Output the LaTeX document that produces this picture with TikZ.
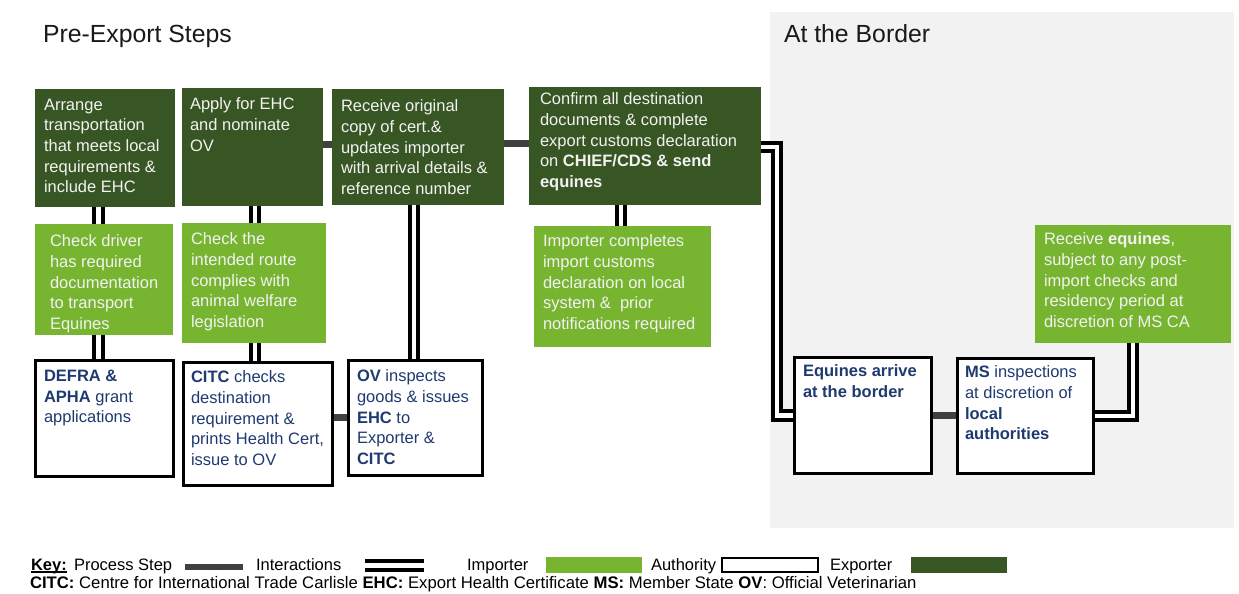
\documentclass[tikz,border=0pt]{standalone}
\usepackage{fontspec}
\setmainfont{Liberation Sans}
\usetikzlibrary{calc}
\pgfdeclarelayer{bg}
\pgfdeclarelayer{conn}
\pgfsetlayers{bg,conn,main}
\definecolor{dkgreen}{HTML}{375623}
\definecolor{ltgreen}{HTML}{77B530}
\definecolor{navy}{HTML}{1F3A70}
\definecolor{paletext}{HTML}{F2F2F2}
\definecolor{bggray}{HTML}{F2F2F2}
\definecolor{procgray}{HTML}{404040}
\tikzset{
  boxbase/.style={anchor=north west, inner sep=0pt, outer sep=0pt},
  dkbox/.style={boxbase, fill=dkgreen},
  ltbox/.style={boxbase, fill=ltgreen},
  whbox/.style={boxbase, fill=white, draw=black, line width=2.8pt},
  txt/.style={anchor=north west, inner sep=0pt, outer sep=0pt, align=left, font=\fontsize{16.5}{20.6}\selectfont},
  lighttxt/.style={txt, text=paletext},
  navytxt/.style={txt, text=navy},
  proc/.style={draw=procgray, line width=7pt},
  inter/.style={draw=black, double=white, line width=4pt, double distance=4.5pt},
  keytxt/.style={anchor=base west, inner sep=0pt, outer sep=0pt, font=\fontsize{16.5}{18}\selectfont},
  keybox/.style={anchor=north west, inner sep=0pt, outer sep=0pt, minimum height=16pt},
  titletxt/.style={anchor=base west, inner sep=0pt, outer sep=0pt, text=black!90, font=\fontsize{24.8}{30}\selectfont}
}
\begin{document}
\begin{tikzpicture}[x=1pt,y=-1pt]
\useasboundingbox (0,0) rectangle (1239,594);
\begin{pgfonlayer}{bg}
  \fill[bggray] (770,12) rectangle (1234,528);
\end{pgfonlayer}

% titles
\node[titletxt] (t1) at (43,43) {Pre-Export Steps};
\node[titletxt] (t2) at (784,43) {At the Border};

% exporter boxes
\node[dkbox, minimum width=140pt, minimum height=118pt] (B1) at (35,89) {};
\node[dkbox, minimum width=141pt, minimum height=118pt] (B2) at (182,88) {};
\node[dkbox, minimum width=172pt, minimum height=116pt] (B3) at (332,89) {};
\node[dkbox, minimum width=232pt, minimum height=118pt] (B4) at (529,87) {};
% importer boxes
\node[ltbox, minimum width=138pt, minimum height=111pt] (G1) at (35,224) {};
\node[ltbox, minimum width=144pt, minimum height=120pt] (G2) at (182,223) {};
\node[ltbox, minimum width=177pt, minimum height=121pt] (G3) at (534,226) {};
\node[ltbox, minimum width=196pt, minimum height=118pt] (G4) at (1035,225) {};
% authority boxes
\node[whbox, minimum width=138.2pt, minimum height=116.2pt] (W1) at (35.4,360.4) {};
\node[whbox, minimum width=149.2pt, minimum height=123.2pt] (W2) at (183.4,362.4) {};
\node[whbox, minimum width=134.2pt, minimum height=115.2pt] (W3) at (348.4,360.4) {};
\node[whbox, minimum width=137.2pt, minimum height=116.2pt] (W4) at (794.4,357.4) {};
\node[whbox, minimum width=136.2pt, minimum height=115.2pt] (W5) at (957.4,358.4) {};

% connectors
\begin{pgfonlayer}{conn}
  \coordinate (c1) at ([xshift=-6.5pt]B1.south);
  \draw[inter] (c1) -- (c1 |- W1.north);
  \coordinate (c2) at ([xshift=2.5pt]B2.south);
  \draw[inter] (c2) -- (c2 |- W2.north);
  \coordinate (c3) at ([xshift=-4pt]B3.south);
  \draw[inter] (c3) -- (c3 |- W3.north);
  \coordinate (c4) at ([xshift=-1.5pt]G3.north);
  \draw[inter] (c4) -- (c4 |- B4.south);
  \coordinate (c5) at ([yshift=-1pt]B4.east);
  \draw[inter] (c5) -- ++(16,0) |- (W4.west);
  \draw[inter] (W5.east) -| (G4.south);
  \coordinate (p1) at ([yshift=3pt]B2.east);
  \draw[proc] (p1) -- (p1 -| B3.west);
  \coordinate (p2) at ([yshift=4pt]B3.east);
  \draw[proc] (p2) -- (p2 -| B4.west);
  \coordinate (p3) at ([yshift=1pt]W3.west);
  \draw[proc] (p3) -- (p3 -| W2.east);
  \draw[proc] (W4.east) -- (W4.east -| W5.west);
\end{pgfonlayer}

% texts
\node[lighttxt] (tB1) at (44,99) {Arrange\\transportation\\that meets local\\requirements \&\\include EHC};
\node[lighttxt] (tB2) at (190,98) {Apply for EHC\\and nominate\\OV};
\node[lighttxt] (tB3) at (341,100) {Receive original\\copy of cert.\&\\updates importer\\with arrival details \&\\reference number};
\node[lighttxt] (tB4) at (540,93) {Confirm all destination\\documents \& complete\\export customs declaration\\on \textbf{CHIEF/CDS \& send}\\\textbf{equines}};
\node[lighttxt] (tG1) at (50,235) {Check driver\\has required\\documentation\\to transport\\Equines};
\node[lighttxt] (tG2) at (191,233) {Check the\\intended route\\complies with\\animal welfare\\legislation};
\node[lighttxt] (tG3) at (543,235) {Importer completes\\import customs\\declaration on local\\system \&\ \ prior\\notifications required};
\node[lighttxt] (tG4) at (1044,233) {Receive \textbf{equines},\\subject to any post-\\import checks and\\residency period at\\discretion of MS CA};
\node[navytxt] (tW1) at (44,370) {\textbf{DEFRA \&}\\\textbf{APHA} grant\\applications};
\node[navytxt] (tW2) at (191,371) {\textbf{CITC} checks\\destination\\requirement \&\\prints Health Cert,\\issue to OV};
\node[navytxt] (tW3) at (357,370) {\textbf{OV} inspects\\goods \& issues\\\textbf{EHC} to\\Exporter \&\\\textbf{CITC}};
\node[navytxt] (tW4) at (803,365) {\textbf{Equines arrive}\\\textbf{at the border}};
\node[navytxt] (tW5) at (965,366) {\textbf{MS} inspections\\at discretion of\\\textbf{local}\\\textbf{authorities}};

% key
\node[keytxt] (kkey) at (31,570) {\textbf{Key:}};
\draw[line width=1.3pt] ([yshift=-2pt]kkey.base west) -- ([yshift=-2pt]kkey.base east);
\node[keytxt] (kproc) at (74,570) {Process Step};
\node[keybox, fill=procgray, minimum width=58pt, minimum height=6pt] (kbar) at (185,564) {};
\node[keytxt] (kint) at (256,570) {Interactions};
\coordinate (kd1) at (365,565.5);
\coordinate (kd2) at (424,565.5);
\draw[inter] (kd1) -- (kd2);
\node[keytxt] (kimp) at (467,570) {Importer};
\node[keybox, fill=ltgreen, minimum width=96pt] (kimpbox) at (546,557) {};
\node[keytxt] (kauth) at (651,570) {Authority};
\node[keybox, fill=white, draw=black, line width=2pt, minimum width=96pt, minimum height=14pt] (kauthbox) at (722,558) {};
\node[keytxt] (kexp) at (830,570) {Exporter};
\node[keybox, fill=dkgreen, minimum width=96pt] (kexpbox) at (911,557) {};
\node[keytxt, font=\fontsize{16.7}{18}\selectfont] (kabbr) at (30,588) {\textbf{CITC:} Centre for International Trade Carlisle \textbf{EHC:} Export Health Certificate \textbf{MS:} Member State \textbf{OV}: Official Veterinarian};
\end{tikzpicture}
\end{document}
